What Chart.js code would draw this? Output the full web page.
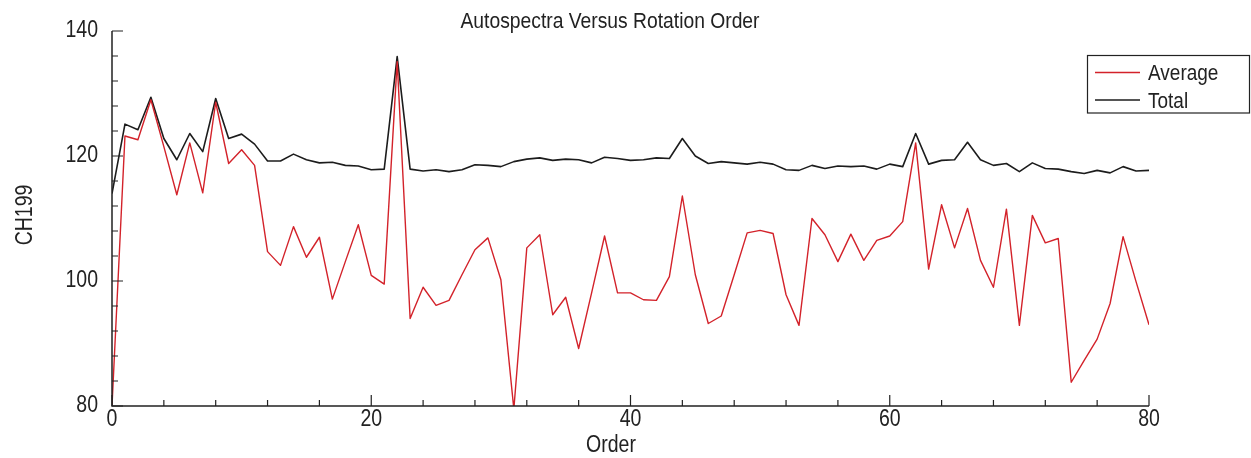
<!DOCTYPE html>
<html>
<head>
<meta charset="utf-8">
<script src="https://cdn.jsdelivr.net/npm/chart.js@4.4.1/dist/chart.umd.min.js"></script>
<style>
  html, body { margin: 0; padding: 0; background: #fff; }
</style>
</head>
<body>
<canvas id="chart" width="1251" height="458"></canvas>
<script>
// --------- data ---------
const orders = [0,1,2,3,4,5,6,7,8,9,10,11,12,13,14,15,16,17,18,19,20,
  21,22,23,24,25,26,27,28,29,30,31,32,33,34,35,36,37,38,39,40,
  41,42,43,44,45,46,47,48,49,50,51,52,53,54,55,56,57,58,59,60,
  61,62,63,64,65,66,67,68,69,70,71,72,73,74,75,76,77,78,79,80];

const average = [80.0,123.2,122.6,129.0,121.5,113.8,122.1,114.1,128.6,118.8,121.0,
  118.5,104.7,102.5,108.7,103.8,107.0,97.1,103.1,109.0,100.9,
  99.5,135.1,94.0,99.0,96.1,96.9,101.0,105.0,106.9,100.2,
  79.5,105.3,107.4,94.6,97.4,89.2,98.1,107.2,98.1,98.1,
  97.0,96.9,100.7,113.6,101.0,93.2,94.4,101.0,107.7,108.1,
  107.6,97.8,92.9,110.0,107.4,103.1,107.5,103.3,106.5,107.2,
  109.5,122.1,101.9,112.2,105.3,111.6,103.3,99.0,111.5,92.9,
  110.5,106.1,106.8,83.8,87.3,90.7,96.4,107.1,99.9,93.0];

const total = [114.0,125.1,124.2,129.4,122.8,119.4,123.6,120.7,129.2,122.8,123.5,
  121.9,119.2,119.2,120.3,119.4,118.9,119.0,118.5,118.4,117.8,
  117.9,135.9,117.9,117.6,117.8,117.5,117.8,118.6,118.5,118.3,
  119.1,119.5,119.7,119.3,119.5,119.4,118.9,119.8,119.6,119.3,
  119.4,119.7,119.6,122.8,120.0,118.8,119.1,118.9,118.7,119.0,
  118.7,117.8,117.7,118.5,118.0,118.4,118.3,118.4,117.9,118.7,
  118.3,123.6,118.7,119.3,119.4,122.2,119.4,118.5,118.8,117.5,
  118.9,118.0,117.9,117.5,117.2,117.7,117.3,118.3,117.6,117.7];

const xTicks = [0, 20, 40, 60, 80];
const yTicks = [80, 100, 120, 140];
// ------------------------------------------------

const FONT = '"Liberation Sans", Arial, sans-serif';
const STRETCH = 1.18;   // reference text is a bit taller than wide

function drawText(ctx, txt, px, py, size, align, rot) {
    ctx.save();
    ctx.translate(px, py);
    if (rot) ctx.rotate(rot);
    ctx.scale(1, STRETCH);
    ctx.font = size + 'px ' + FONT;
    ctx.textAlign = align;
    ctx.textBaseline = 'alphabetic';
    ctx.fillText(txt, 0, 0);
    ctx.restore();
}

const pts = arr => orders.map((o, i) => ({ x: o, y: arr[i] }));

// axes, inward ticks, labels, title and boxed legend
const frame = {
    id: 'frame',
    afterDraw(chart) {
        const { ctx, chartArea: a, scales: { x, y } } = chart;
        ctx.save();
        ctx.strokeStyle = '#222';
        ctx.fillStyle = '#222';
        ctx.lineWidth = 1.5;

        ctx.beginPath();
        ctx.moveTo(a.left, a.top);
        ctx.lineTo(a.left, a.bottom);
        ctx.lineTo(a.right, a.bottom);
        ctx.stroke();

        ctx.lineWidth = 1.2;
        ctx.beginPath();
        for (let v = x.min; v <= x.max; v += 4) {
            const px = x.getPixelForValue(v);
            const len = v % 20 === 0 ? 11 : 6;
            ctx.moveTo(px, a.bottom);
            ctx.lineTo(px, a.bottom - len);
        }
        for (let v = y.min; v <= y.max; v += 4) {
            const py = y.getPixelForValue(v);
            const len = v % 20 === 0 ? 11 : 6;
            ctx.moveTo(a.left, py);
            ctx.lineTo(a.left + len, py);
        }
        ctx.stroke();

        xTicks.forEach(v => drawText(ctx, String(v), x.getPixelForValue(v), a.bottom + 20, 19.5, 'center'));
        yTicks.forEach(v => drawText(ctx, String(v), a.left - 14, y.getPixelForValue(v) + 5.5, 19.5, 'right'));

        drawText(ctx, 'Autospectra Versus Rotation Order', 610, 28, 19.3, 'center');
        drawText(ctx, 'Order', 611, 451.5, 19.5, 'center');
        drawText(ctx, 'CH199', 31.5, 215, 19.5, 'center', -Math.PI / 2);

        // legend
        ctx.lineWidth = 1.2;
        ctx.strokeStyle = '#222';
        ctx.strokeRect(1087.5, 55.5, 162, 57.5);
        chart.data.datasets.forEach((ds, i) => {
            const ly = 72.5 + i * 27.5;
            ctx.strokeStyle = ds.borderColor;
            ctx.lineWidth = ds.borderWidth;
            ctx.beginPath();
            ctx.moveTo(1095, ly);
            ctx.lineTo(1140, ly);
            ctx.stroke();
            ctx.fillStyle = '#222';
            drawText(ctx, ds.label, 1148, ly + 7.5, 19, 'left');
        });
        ctx.restore();
    }
};

new Chart(document.getElementById('chart'), {
    type: 'line',
    data: {
        datasets: [
            { label: 'Average', data: pts(average), borderColor: '#d3222a', borderWidth: 1.4,
              borderJoinStyle: 'round', pointRadius: 0, tension: 0 },
            { label: 'Total', data: pts(total), borderColor: '#1c1c1c', borderWidth: 1.6,
              borderJoinStyle: 'round', pointRadius: 0, tension: 0 }
        ]
    },
    options: {
        responsive: false,
        devicePixelRatio: 1,
        animation: false,
        layout: { padding: { left: 112, right: 102, top: 31, bottom: 52 } },
        scales: {
            x: { type: 'linear', display: false, min: 0, max: 80 },
            y: { type: 'linear', display: false, min: 80, max: 140 }
        },
        plugins: { legend: { display: false }, tooltip: { enabled: false } }
    },
    plugins: [frame]
});
</script>
</body>
</html>
